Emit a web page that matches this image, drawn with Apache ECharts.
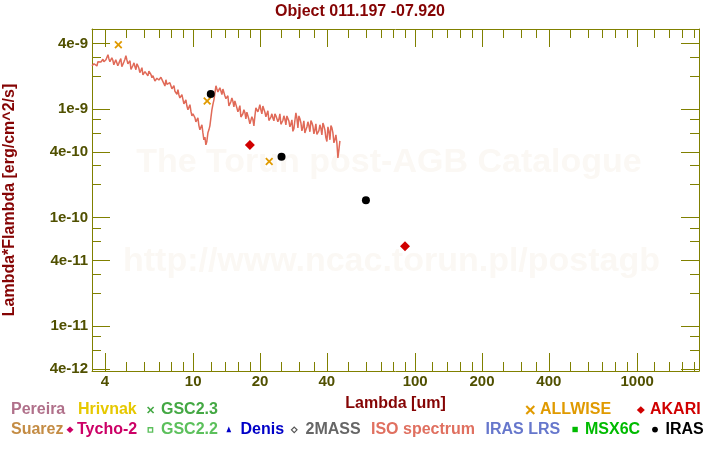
<!DOCTYPE html>
<html><head><meta charset="utf-8">
<script src="https://cdn.jsdelivr.net/npm/echarts@6/dist/echarts.min.js"></script>
<style>html,body{margin:0;padding:0;background:#fff}#chart{width:720px;height:450px}</style>
</head><body><div id="chart"></div>
<script>
// ---------- data ----------
const TITLE = 'Object 011.197 -07.920';
const X_NAME = 'Lambda [um]';
const Y_NAME = 'Lambda*Flambda [erg/cm^2/s]';
const X_RANGE = [3.5, 1900];
const Y_RANGE = [3.85e-12, 5.43e-9];
const X_LABEL_TICKS = [4, 10, 20, 40, 100, 200, 400, 1000];
const X_MINOR_TICKS = [5,6,7,8,9,12,14,16,18,25,30,35,50,60,70,80,90,120,140,160,180,250,300,350,500,600,700,800,900,1200,1400,1600,1800];
const Y_LABEL_TICKS = [4e-9, 1e-9, 4e-10, 1e-10, 4e-11, 1e-11, 4e-12];
const Y_MINOR_TICKS = [3e-9,2e-9,8e-10,6e-10,3e-10,2e-10,8e-11,6e-11,3e-11,2e-11,8e-12,6e-12];

// ISO spectrum: wavelength [um], flux in units of 1e-9 erg/cm^2/s
const ISO_UNIT = 1e-9;
const ISO_LAMBDA = [
3.50,3.5365,3.573,3.610,3.645,3.683,3.722,3.761,3.80,3.840,
3.88,3.920,3.96,4.001,4.045,4.087,4.13,4.173,4.215,4.259,
4.30,4.345,4.39,4.436,4.48,4.527,4.575,4.623,4.67,4.719,
4.77,4.820,4.875,4.926,4.975,5.027,5.08,5.133,5.19,5.244,
5.30,5.355,5.41,5.466,5.52,5.578,5.635,5.694,5.75,5.810,
5.875,5.936,6.00,6.063,6.125,6.189,6.25,6.315,6.385,6.452,
6.52,6.588,6.655,6.724,6.79,6.861,6.935,7.007,7.08,7.154,
7.23,7.305,7.38,7.457,7.535,7.614,7.69,7.770,7.85,7.932,
8.02,8.104,8.19,8.275,8.36,8.447,8.535,8.624,8.71,8.801,
8.895,8.988,9.08,9.175,9.27,9.367,9.47,9.569,9.665,9.766,
9.87,9.973,10.075,10.18,10.28,10.39,10.50,10.61,10.72,10.83,
10.945,11.06,11.17,11.29,11.405,11.52,11.65,11.77,11.89,12.01,
12.14,12.27,12.40,12.53,12.66,12.79,12.92,13.06,13.19,13.33,
13.47,13.61,13.75,13.89,14.04,14.19,14.33,14.48,14.63,14.78,
14.94,15.10,15.25,15.41,15.57,15.73,15.90,16.07,16.23,16.40,
16.57,16.74,16.92,17.10,17.27,17.45,17.64,17.82,18.00,18.19,
18.38,18.57,18.77,18.97,19.16,19.36,19.56,19.76,19.97,20.18,
20.39,20.60,20.82,21.04,21.26,21.48,21.70,21.93,22.16,22.39,
22.62,22.86,23.10,23.34,23.58,23.83,24.07,24.32,24.58,24.84,
25.09,25.35,25.62,25.89,26.16,26.43,26.71,26.99,27.27,27.55,
27.84,28.13,28.42,28.72,29.02,29.32,29.63,29.94,30.25,30.57,
30.88,31.20,31.52,31.85,32.19,32.53,32.87,33.21,33.56,33.91,
34.26,34.62,34.98,35.34,35.71,36.08,36.46,36.84,37.22,37.61,
38.00,38.40,38.80,39.20,39.62,40.03,40.45,40.87,41.30,41.73,
42.16,42.60,43.05,43.50,43.95,44.41,44.87,45.34,45.81];
const ISO_FLUX = [
2.49,2.52,2.60,2.66,2.54,2.48,2.71,2.62,2.65,2.70,
2.77,2.86,2.71,2.66,2.83,2.74,3.15,2.88,2.71,2.62,
2.95,2.80,2.54,2.45,2.83,2.90,2.49,2.62,2.77,2.90,
2.44,2.56,2.71,2.86,3.08,2.82,2.60,2.50,2.77,2.30,
2.39,2.52,2.65,2.44,2.29,2.60,2.49,2.36,2.15,2.25,
2.39,2.05,2.10,2.20,2.29,2.16,2.01,2.22,2.24,2.07,
1.93,2.02,2.10,1.80,1.85,1.91,1.97,1.84,1.77,1.95,
1.89,1.78,1.70,1.62,1.85,1.68,1.63,1.69,1.74,1.78,
1.53,1.58,1.63,1.45,1.40,1.36,1.50,1.34,1.26,1.30,
1.35,1.38,1.11,1.14,1.21,1.06,0.979,0.94,1.09,0.95,
0.862,0.90,0.938,0.83,0.759,0.79,0.826,0.70,0.640,0.66,
0.712,0.60,0.518,0.55,0.466,0.50,0.601,0.64,0.697,0.82,
0.979,1.10,1.21,1.40,1.63,1.52,1.43,1.48,1.56,1.46,
1.35,1.52,1.47,1.32,1.24,1.28,1.32,1.06,1.11,1.16,
1.26,1.17,1.04,1.18,1.14,1.02,0.938,0.99,1.07,0.84,
0.862,0.90,0.979,0.92,0.809,0.93,0.899,0.80,0.727,0.70,
0.844,0.80,0.697,0.86,1.02,1.06,0.938,1.00,1.09,0.98,
0.899,1.06,1.02,0.93,0.844,0.88,0.958,0.78,0.792,0.84,
0.899,0.82,0.775,0.90,0.862,0.83,0.759,0.80,0.899,0.72,
0.743,0.78,0.862,0.80,0.712,0.86,0.826,0.77,0.682,0.72,
0.792,0.62,0.654,0.78,0.919,0.82,0.668,0.86,0.809,0.74,
0.627,0.68,0.775,0.60,0.640,0.68,0.759,0.70,0.614,0.78,
0.743,0.69,0.588,0.64,0.727,0.58,0.601,0.63,0.712,0.66,
0.576,0.74,0.697,0.64,0.540,0.50,0.682,0.62,0.518,0.70,
0.668,0.60,0.486,0.52,0.576,0.48,0.353,0.42,0.507];

// Photometry
const ALLWISE_LAMBDA = [4.6, 11.56, 22.0];
const ALLWISE_FLUX = [3.89e-9, 1.18e-9, 3.27e-10];
const IRAS_LAMBDA = [12, 25, 60];
const IRAS_FLUX = [1.37e-9, 3.61e-10, 1.44e-10];
const AKARI_LAMBDA = [18, 90];
const AKARI_FLUX = [4.63e-10, 5.43e-11];

// ---------- styling ----------
const OLIVE = '#808000';
const LABEL_COLOR = '#505000';
const TITLE_COLOR = '#850404';
const FONT = '"Liberation Sans", Arial, sans-serif';
const L = Math.log10;

function pairs(xs, ys, unit) {
  return xs.map((x, i) => [L(x), L(ys[i] * (unit || 1))]);
}
const xFmt = v => String(Math.round(Math.pow(10, v)));
const yFmt = v => { const e = Math.floor(v + 1e-6); const m = Math.round(Math.pow(10, v - e)); return m + 'e' + e; };

const labelStyle = { color: LABEL_COLOR, fontSize: 15, fontWeight: 'bold', fontFamily: FONT };

function axis(dim, pos, ticks, len, opts) {
  const range = dim === 'x' ? X_RANGE : Y_RANGE;
  const a = {
    type: 'value', position: pos, min: L(range[0]), max: L(range[1]),
    splitLine: { show: false },
    axisLine: { show: !!opts.line, onZero: false, lineStyle: { color: OLIVE, width: 1 } },
    axisTick: { show: true, inside: true, length: len, customValues: ticks.map(L), lineStyle: { color: OLIVE, width: 1 } },
    axisLabel: { show: false },
    silent: true
  };
  if (opts.labels) {
    a.axisLabel = Object.assign({ show: true, customValues: ticks.map(L), formatter: dim === 'x' ? xFmt : yFmt,
      margin: dim === 'x' ? 3 : 4, showMinLabel: true, showMaxLabel: true }, labelStyle);
  }
  if (opts.name) {
    a.name = opts.name; a.nameLocation = 'middle'; a.nameGap = opts.gap;
    a.nameTextStyle = { color: TITLE_COLOR, fontSize: 16, fontWeight: 'bold', fontFamily: FONT };
  }
  return a;
}

const legendTexts = [
  ['Pereira', '#b0708a', 11, 410], ['Hrivnak', '#e6c800', 78, 410], ['GSC2.3', '#44a844', 161, 410],
  ['ALLWISE', '#e09a00', 540, 410], ['AKARI', '#d00000', 650, 410],
  ['Suarez', '#c48c44', 11, 430], ['Tycho-2', '#cc0066', 77, 430], ['GSC2.2', '#5cc05c', 161, 430],
  ['Denis', '#0000c8', 240.5, 430], ['2MASS', '#666666', 305.5, 430], ['ISO spectrum', '#e07060', 371, 430],
  ['IRAS LRS', '#6677cc', 485.5, 430], ['MSX6C', '#00bb00', 585, 430], ['IRAS', '#000000', 665.5, 430]
];

const WATERMARK = '#fbf8f4';
const graphic = [
  { type: 'text', x: 389, y: 163, z: 0, silent: true,
    style: { text: 'The Torun post-AGB Catalogue', font: 'bold 34px ' + FONT, fill: WATERMARK, align: 'center', verticalAlign: 'middle' } },
  { type: 'text', x: 391.5, y: 262, z: 0, silent: true,
    style: { text: 'http://www.ncac.torun.pl/postagb', font: 'bold 34px ' + FONT, fill: WATERMARK, align: 'center', verticalAlign: 'middle' } }
];
legendTexts.forEach(t => graphic.push({ type: 'text', x: t[2], y: t[3], silent: true,
  style: { text: t[0], fill: t[1], font: 'bold 16px ' + FONT, align: 'left', verticalAlign: 'middle' } }));
// legend symbols
graphic.push(
  { type: 'line', shape: { x1: 147.6, y1: 407, x2: 153.6, y2: 413 }, style: { stroke: '#44a844', lineWidth: 1.6 } },
  { type: 'line', shape: { x1: 147.6, y1: 413, x2: 153.6, y2: 407 }, style: { stroke: '#44a844', lineWidth: 1.6 } },
  { type: 'line', shape: { x1: 526.3, y1: 406, x2: 534.3, y2: 414 }, style: { stroke: '#e09a00', lineWidth: 2 } },
  { type: 'line', shape: { x1: 526.3, y1: 414, x2: 534.3, y2: 406 }, style: { stroke: '#e09a00', lineWidth: 2 } },
  { type: 'polygon', shape: { points: [[636.8, 410], [640.8, 406.3], [644.8, 410], [640.8, 413.7]] }, style: { fill: '#d00000' } },
  { type: 'polygon', shape: { points: [[66.5, 429.7], [70, 426.4], [73.5, 429.7], [70, 433]] }, style: { fill: '#cc0066' } },
  { type: 'rect', shape: { x: 148.2, y: 427.7, width: 4.4, height: 4.4 }, style: { fill: 'none', stroke: '#5cc05c', lineWidth: 1.4 } },
  { type: 'polygon', shape: { points: [[226.4, 432.3], [228.8, 426.6], [231.2, 432.3]] }, style: { fill: '#0000c8' } },
  { type: 'polygon', shape: { points: [[291.4, 429.8], [294.2, 427], [297, 429.8], [294.2, 432.6]] }, style: { fill: 'none', stroke: '#555555', lineWidth: 1.2 } },
  { type: 'rect', shape: { x: 572.4, y: 426.8, width: 5.4, height: 5.4 }, style: { fill: '#00bb00' } },
  { type: 'circle', shape: { cx: 655, cy: 429.6, r: 2.9 }, style: { fill: '#000000' } }
);

const option = {
  animation: false,
  backgroundColor: '#ffffff',
  title: { text: TITLE, left: 'center', top: 4, itemGap: 0, padding: 0,
    textStyle: { color: TITLE_COLOR, fontSize: 16, fontWeight: 'bold', fontFamily: FONT } },
  grid: { left: 92, right: 21, top: 29, bottom: 79, containLabel: false, outerBoundsMode: 'none' },
  xAxis: [
    axis('x', 'bottom', X_LABEL_TICKS, 18, { line: true, labels: true, name: X_NAME, gap: 25 }),
    axis('x', 'bottom', X_MINOR_TICKS, 9, {}),
    axis('x', 'top', X_LABEL_TICKS, 18, { line: true }),
    axis('x', 'top', X_MINOR_TICKS, 9, {})
  ],
  yAxis: [
    axis('y', 'left', Y_LABEL_TICKS, 18, { line: true, labels: true, name: Y_NAME, gap: 74 }),
    axis('y', 'left', Y_MINOR_TICKS, 9, {}),
    axis('y', 'right', Y_LABEL_TICKS, 18, { line: true }),
    axis('y', 'right', Y_MINOR_TICKS, 9, {})
  ],
  graphic: graphic,
  series: [
    { name: 'ISO spectrum', type: 'line', data: pairs(ISO_LAMBDA, ISO_FLUX, ISO_UNIT), showSymbol: false, symbol: 'none',
      lineStyle: { color: '#e06a58', width: 1.5 }, z: 3, clip: true },
    { name: 'ALLWISE', type: 'scatter', data: pairs(ALLWISE_LAMBDA, ALLWISE_FLUX), symbolSize: 8,
      symbol: 'path://M0,1.6L1.6,0L5,3.4L8.4,0L10,1.6L6.6,5L10,8.4L8.4,10L5,6.6L1.6,10L0,8.4L3.4,5Z',
      itemStyle: { color: '#e09a00', opacity: 1 }, z: 4 },
    { name: 'IRAS', type: 'scatter', data: pairs(IRAS_LAMBDA, IRAS_FLUX), symbol: 'circle', symbolSize: 8,
      itemStyle: { color: '#000000', opacity: 1 }, z: 4 },
    { name: 'AKARI', type: 'scatter', data: pairs(AKARI_LAMBDA, AKARI_FLUX), symbol: 'diamond', symbolSize: 10,
      itemStyle: { color: '#d00000', opacity: 1 }, z: 4 }
  ]
};

const chart = echarts.init(document.getElementById('chart'), null, { renderer: 'canvas' });
chart.setOption(option);
</script>
</body></html>
